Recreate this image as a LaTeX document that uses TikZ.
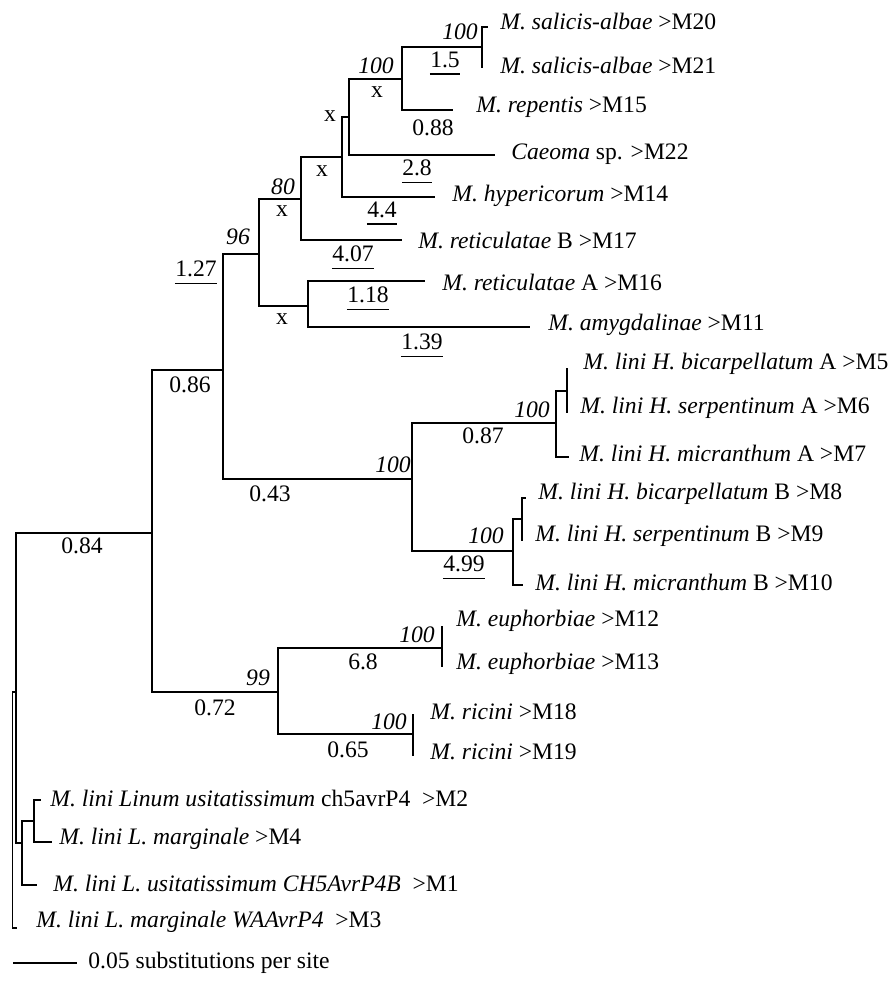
\documentclass[tikz,border=0pt]{standalone}
\usepackage{fontspec}
\setmainfont{Liberation Serif}
\usetikzlibrary{positioning}
\newcommand{\treefont}{\fontsize{11.8}{14}\selectfont}

\begin{document}
\begin{tikzpicture}[
    x=0.5pt, y=-0.5pt,
    font=\treefont,
    branch/.style={draw,line width=.7pt},
    leaf/.style={anchor=west,inner sep=0pt},
    lab/.style={inner sep=0pt},
    boot/.style={inner sep=0pt,font=\treefont\itshape},
    ul/.style={inner xsep=0pt,inner ysep=3pt,text depth=0pt,
      append after command={(\tikzlastnode.south west)
        edge[branch] (\tikzlastnode.south east)}}
  ]
    \useasboundingbox (0,0) rectangle (893,989);

    % internal nodes
    \coordinate (root) at (12.5,810);
    \coordinate (nA) at (16,692);
    \coordinate (nL) at (22,843);
    \coordinate (nL2) at (34,821);
    \coordinate (nB) at (152,533);
    \coordinate (nC) at (223,370);
    \coordinate (nD) at (259,254);
    \coordinate (nF) at (301,199);
    \coordinate (nH) at (342,157);
    \coordinate (nI) at (349,117);
    \coordinate (nJ) at (402,79);
    \coordinate (nK) at (482,47);
    \coordinate (nG) at (308,306);
    \coordinate (nAB) at (412,479);
    \coordinate (nA1) at (556,423);
    \coordinate (nA2) at (567,391);
    \coordinate (nB1) at (513,551);
    \coordinate (nB2) at (522,519);
    \coordinate (nE) at (278,692);
    \coordinate (nEu) at (442,648);
    \coordinate (nRi) at (413,734);

    % branch tips
    \coordinate (t20) at (488,27);
    \coordinate (t21) at (482,68);
    \coordinate (t15) at (453,110);
    \coordinate (t22) at (495,155);
    \coordinate (t14) at (435,197);
    \coordinate (t17) at (402,240);
    \coordinate (t16) at (425,281);
    \coordinate (t11) at (530,327);
    \coordinate (t5) at (567,368);
    \coordinate (t6) at (567,413);
    \coordinate (t7) at (569,457);
    \coordinate (t8) at (526,498);
    \coordinate (t9) at (522,541);
    \coordinate (t10) at (523,585);
    \coordinate (t12) at (442,626);
    \coordinate (t13) at (442,667);
    \coordinate (t18) at (413,714);
    \coordinate (t19) at (413,756);
    \coordinate (t2) at (41,800);
    \coordinate (t4) at (52,842);
    \coordinate (t1) at (37,885);
    \coordinate (t3) at (17,928);

    \foreach \p/\c in {root/nA,root/t3,nA/nB,nA/nL,nL/nL2,nL/t1,nL2/t2,nL2/t4,
        nB/nC,nB/nE,nC/nD,nC/nAB,nD/nF,nD/nG,nG/t16,nG/t11,nF/nH,nF/t17,
        nH/nI,nH/t14,nI/nJ,nI/t22,nJ/nK,nJ/t15,nK/t20,nK/t21,
        nAB/nA1,nAB/nB1,nA1/nA2,nA1/t7,nA2/t5,nA2/t6,nB1/nB2,nB1/t10,
        nB2/t8,nB2/t9,nE/nEu,nE/nRi,nEu/t12,nEu/t13,nRi/t18,nRi/t19}
      \draw[branch] (\p) |- (\c);

    % taxa
    \node[leaf] (l20) at (500,21) {\textit{M. salicis-albae} >M20};
    \node[leaf] (l21) at (500,65) {\textit{M. salicis-albae} >M21};
    \node[leaf] (l15) at (476,107) {\textit{M. repentis} >M15};
    \node[leaf] (l22) at (511,154) {\textit{Caeoma} sp. >M22};
    \node[leaf] (l14) at (452,196) {\textit{M. hypericorum} >M14};
    \node[leaf] (l17) at (418,240) {\textit{M. reticulatae} B >M17};
    \node[leaf] (l16) at (442,282) {\textit{M. reticulatae} A >M16};
    \node[leaf] (l11) at (548,325) {\textit{M. amygdalinae} >M11};
    \node[leaf] (l5) at (583,364) {\textit{M. lini H. bicarpellatum} A >M5};
    \node[leaf] (l6) at (580,408) {\textit{M. lini H. serpentinum} A >M6};
    \node[leaf] (l7) at (579,453) {\textit{M. lini H. micranthum} A >M7};
    \node[leaf] (l8) at (538,494) {\textit{M. lini H. bicarpellatum} B >M8};
    \node[leaf] (l9) at (535,536) {\textit{M. lini H. serpentinum} B >M9};
    \node[leaf] (l10) at (535,582) {\textit{M. lini H. micranthum} B >M10};
    \node[leaf] (l12) at (456,621) {\textit{M. euphorbiae} >M12};
    \node[leaf] (l13) at (456,664) {\textit{M. euphorbiae} >M13};
    \node[leaf] (l18) at (430,712) {\textit{M. ricini} >M18};
    \node[leaf] (l19) at (430,752) {\textit{M. ricini} >M19};
    \node[leaf] (l2) at (50,798) {\textit{M. lini Linum usitatissimum} ch5avrP4~ >M2};
    \node[leaf] (l4) at (59,839) {\textit{M. lini L. marginale} >M4};
    \node[leaf] (l1) at (53,883) {\textit{M. lini L. usitatissimum CH5AvrP4B}~ >M1};
    \node[leaf] (l3) at (36,922) {\textit{M. lini L. marginale WAAvrP4}~ >M3};

    % branch lengths and support
    \node[lab] (s84) at (82,546) {0.84};
    \node[lab] (s86) at (190,385) {0.86};
    \node[lab,ul] (s127) at (196,269) {1.27};
    \node[boot] (b96) at (238,237) {96};
    \node[lab] (x1) at (282,319) {x};
    \node[lab,ul] (s118) at (368,295) {1.18};
    \node[lab,ul] (s139) at (422,342) {1.39};
    \node[boot] (b80) at (283,187) {80};
    \node[lab] (x2) at (282,211) {x};
    \node[lab,ul] (s407) at (353,254) {4.07};
    \node[lab] (x3) at (322,171) {x};
    \node[lab,ul] (s44) at (382,210) {4.4};
    \node[lab] (x4) at (330,116) {x};
    \node[lab,ul] (s28) at (417,168) {2.8};
    \node[boot] (b100a) at (376,66) {100};
    \node[lab] (x5) at (377,92) {x};
    \node[lab] (s88) at (433,128) {0.88};
    \node[boot] (b100b) at (460,32) {100};
    \node[lab,ul] (s15) at (445,60) {1.5};
    \node[lab] (s43) at (270,494) {0.43};
    \node[boot] (b100c) at (393,465) {100};
    \node[boot] (b100d) at (532,410) {100};
    \node[lab] (s87) at (483,436) {0.87};
    \node[boot] (b100e) at (486,536) {100};
    \node[lab,ul] (s499) at (464,564) {4.99};
    \node[lab] (s72) at (215,708) {0.72};
    \node[boot] (b99) at (258,678) {99};
    \node[boot] (b100f) at (417,635) {100};
    \node[lab] (s68) at (363,662) {6.8};
    \node[boot] (b100g) at (389,722) {100};
    \node[lab] (s65) at (348,750) {0.65};

    % scale bar
    \coordinate (sb0) at (13,963);
    \coordinate (sb1) at (77,963);
    \draw[branch] (sb0) -- (sb1);
    \node[leaf,right=5.5pt of sb1] (sbl) {0.05 substitutions per site};
  \end{tikzpicture}
\end{document}
